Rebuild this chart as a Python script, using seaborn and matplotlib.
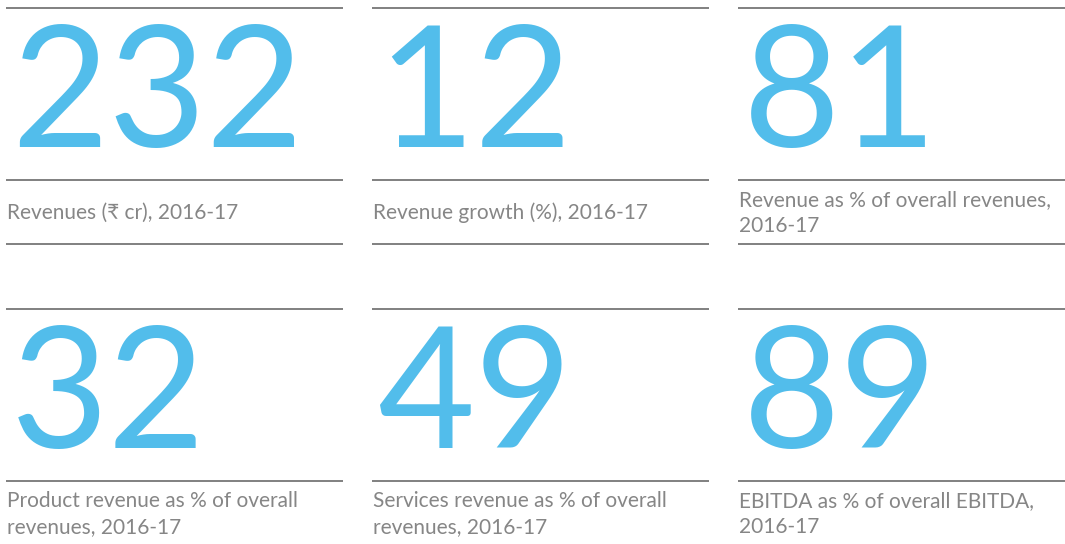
import seaborn as sns
import matplotlib.pyplot as plt

# KPI values and captions
kpi_values = ['232', '12', '81', '32', '49', '89']
kpi_captions = [
    'Revenues (\u20b9 cr), 2016-17',
    'Revenue growth (%), 2016-17',
    'Revenue as % of overall revenues,\n2016-17',
    'Product revenue as % of overall\nrevenues, 2016-17',
    'Services revenue as % of overall\nrevenues, 2016-17',
    'EBITDA as % of overall EBITDA,\n2016-17',
]

sns.set_theme(style='white')
plt.rcParams['font.family'] = ['Lato', 'DejaVu Sans']

BLUE = '#52bdeb'
RULE = '#808080'
TEXT = '#868686'

fig = plt.figure(figsize=(10.65, 5.44), dpi=100)
ax = fig.add_axes([0, 0, 1, 1])
ax.set_xlim(0, 1065)
ax.set_ylim(544, 0)
ax.axis('off')

col_x = [6, 372, 738]
col_w = 337
row_top = [8, 309]

for i, (val, cap) in enumerate(zip(kpi_values, kpi_captions)):
    r, c = divmod(i, 3)
    x0 = col_x[c]
    top = row_top[r]
    mid = top + 172
    bot = mid + 64
    # rules
    ax.hlines([top, mid, bot], x0, x0 + col_w, color=RULE, lw=1.4)
    # big number
    ax.text(x0 + 5, top + 139, val, fontsize=121, color=BLUE,
            ha='left', va='baseline', fontweight='normal')
    # caption
    ax.text(x0 + 1, (mid + bot) / 2 + 1, cap, fontsize=15, color=TEXT,
            ha='left', va='center', fontweight='normal', linespacing=1.38)

fig.savefig('out.png', dpi=100)
